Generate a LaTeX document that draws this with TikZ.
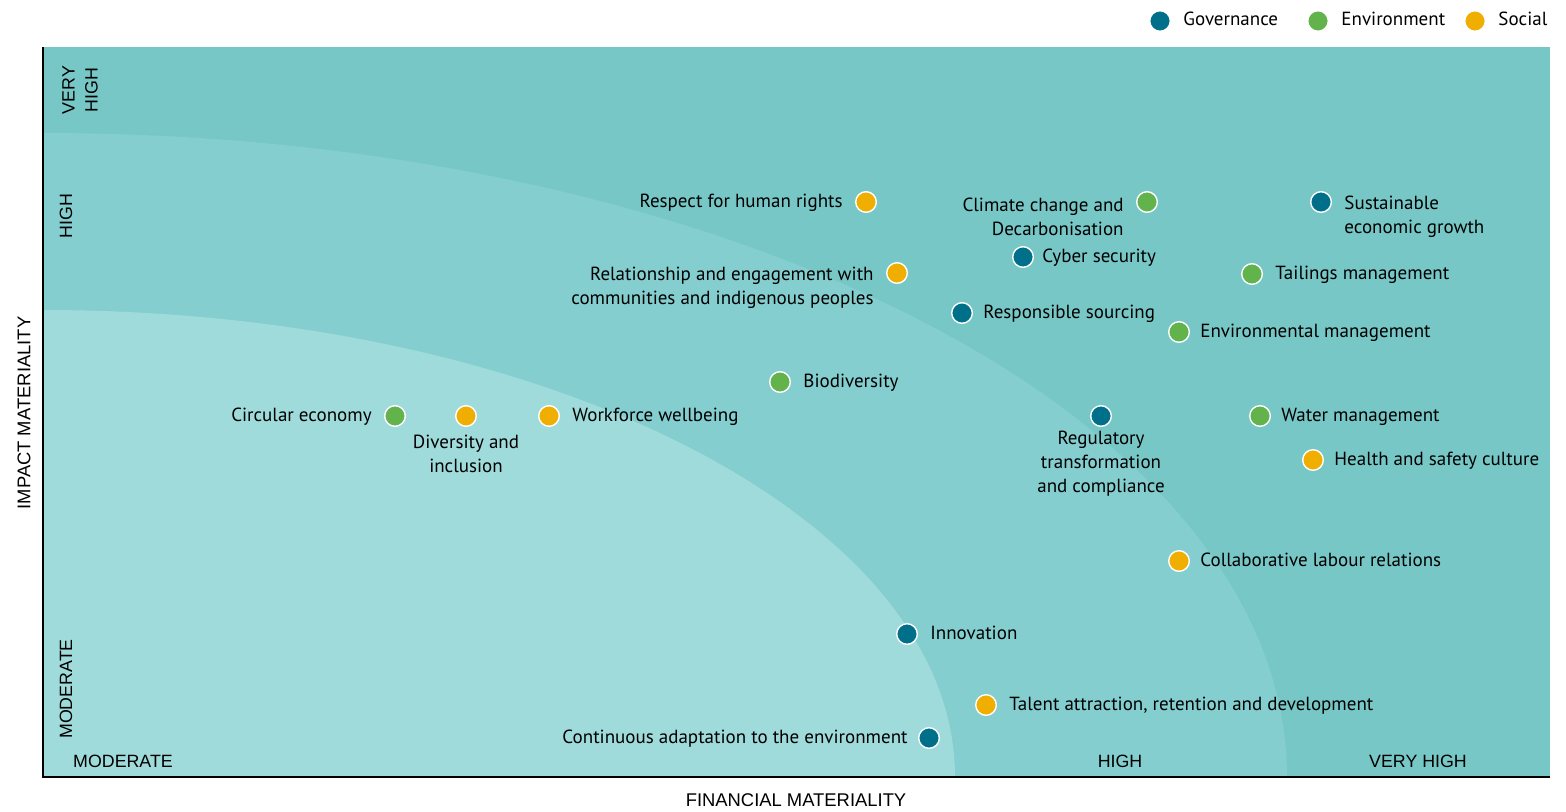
\documentclass[tikz,border=0pt]{standalone}
\usepackage{fontspec}
\setmainfont{PT Sans}
\newfontfamily\axisfont{Liberation Sans}
\usetikzlibrary{positioning}
\definecolor{govblue}{RGB}{0,112,138}
\definecolor{envgreen}{RGB}{98,179,75}
\definecolor{socyellow}{RGB}{240,174,0}
\definecolor{zonedark}{RGB}{120,199,199}
\definecolor{zonemid}{RGB}{132,206,207}
\definecolor{zonelight}{RGB}{160,219,220}

\tikzset{
  dot/.style={circle, minimum size=10.3pt, inner sep=0pt, draw=white, line width=0.7pt},
  gov/.style={dot, fill=govblue},
  env/.style={dot, fill=envgreen},
  soc/.style={dot, fill=socyellow},
  mlbl/.style={inner sep=0pt, font=\fontsize{9.5}{12}\selectfont},
  lbl/.style={mlbl, text height=0.7em, text depth=0.2em},
  tick/.style={inner sep=0pt, font=\axisfont\fontsize{8.9}{11.5}\selectfont},
  axistitle/.style={inner sep=0pt, font=\axisfont\fontsize{9.2}{11}\selectfont},
}

\begin{document}
\begin{tikzpicture}[x=0.5pt,y=0.5pt]
\useasboundingbox (0,0) rectangle (1566,811);
% zones
\fill[zonedark] (43,34) rectangle (1550,764);
\begin{scope}
\clip (43,34) rectangle (1550,764);
\fill[zonemid] (43,34) ellipse [x radius=622pt, y radius=322pt];
\fill[zonelight] (43,34) ellipse [x radius=456pt, y radius=233.5pt];
\end{scope}
\draw[line width=1pt] (43,764) -- (43,34) -- (1550,34);

% axis labels
\node[tick] (xmod) at (123,50) {MODERATE};
\node[tick] (xhigh) at (1120,50) {HIGH};
\node[tick] (xvhigh) at (1418,50) {VERY HIGH};
\node[tick, rotate=90] (ymod) at (66,122) {MODERATE};
\node[tick, rotate=90] (yhigh) at (66,595) {HIGH};
\node[tick, rotate=90, align=center] (yvhigh) at (80,721) {VERY\\HIGH};
\node[axistitle] (xtitle) at (796,11) {FINANCIAL MATERIALITY};
\node[axistitle, rotate=90] (ytitle) at (24,398) {IMPACT MATERIALITY};

% legend
\node[gov] (leggov) at (1160,790) {};
\node[lbl, right=6pt of leggov] (leggovt) {Governance};
\node[env] (legenv) at (1318,790) {};
\node[lbl, right=6pt of legenv] (legenvt) {Environment};
\node[soc] (legsoc) at (1475,790) {};
\node[lbl, right=6pt of legsoc] (legsoct) {Social};

% governance
\node[gov] (sust) at (1321,609) {};
\node[mlbl, right=6pt of sust, yshift=-7.5pt, align=left] (sustt) {Sustainable\\economic growth};
\node[gov] (cyber) at (1023,554) {};
\node[lbl, right=4pt of cyber] (cybert) {Cyber security};
\node[gov] (sourc) at (962,498) {};
\node[lbl, right=5pt of sourc] (sourct) {Responsible sourcing};
\node[gov] (regul) at (1101,395) {};
\node[mlbl, below=2pt of regul, align=center] (regult) {Regulatory\\transformation\\and compliance};
\node[gov] (innov) at (907,177) {};
\node[lbl, right=6pt of innov] (innovt) {Innovation};
\node[gov] (adapt) at (929,73) {};
\node[lbl, left=5pt of adapt] (adaptt) {Continuous adaptation to the environment};

% environment
\node[env] (clim) at (1147,609) {};
\node[mlbl, left=6pt of clim, yshift=-7.5pt, align=right] (climt) {Climate change and\\Decarbonisation};
\node[env] (tail) at (1252,537) {};
\node[lbl, right=6pt of tail] (tailt) {Tailings management};
\node[env] (envm) at (1179,479) {};
\node[lbl, right=5pt of envm] (envmt) {Environmental management};
\node[env] (biod) at (780,429) {};
\node[lbl, right=6pt of biod] (biodt) {Biodiversity};
\node[env] (water) at (1260,395) {};
\node[lbl, right=5pt of water] (watert) {Water management};
\node[env] (circ) at (395,395) {};
\node[lbl, left=6pt of circ] (circt) {Circular economy};

% social
\node[soc] (human) at (866,609) {};
\node[lbl, left=6pt of human] (humant) {Respect for human rights};
\node[soc] (relat) at (897,538) {};
\node[mlbl, left=6pt of relat, yshift=-7.5pt, align=right] (relatt) {Relationship and engagement with\\communities and indigenous peoples};
\node[soc] (divers) at (466,395) {};
\node[mlbl, below=4pt of divers, align=center] (diverst) {Diversity and\\inclusion};
\node[soc] (workf) at (549,395) {};
\node[lbl, right=6pt of workf] (workft) {Workforce wellbeing};
\node[soc] (health) at (1313,351) {};
\node[lbl, right=5pt of health] (healtht) {Health and safety culture};
\node[soc] (labour) at (1179,250) {};
\node[lbl, right=5pt of labour] (labourt) {Collaborative labour relations};
\node[soc] (talent) at (986,106) {};
\node[lbl, right=6pt of talent] (talentt) {Talent attraction, retention and development};
\end{tikzpicture}
\end{document}
